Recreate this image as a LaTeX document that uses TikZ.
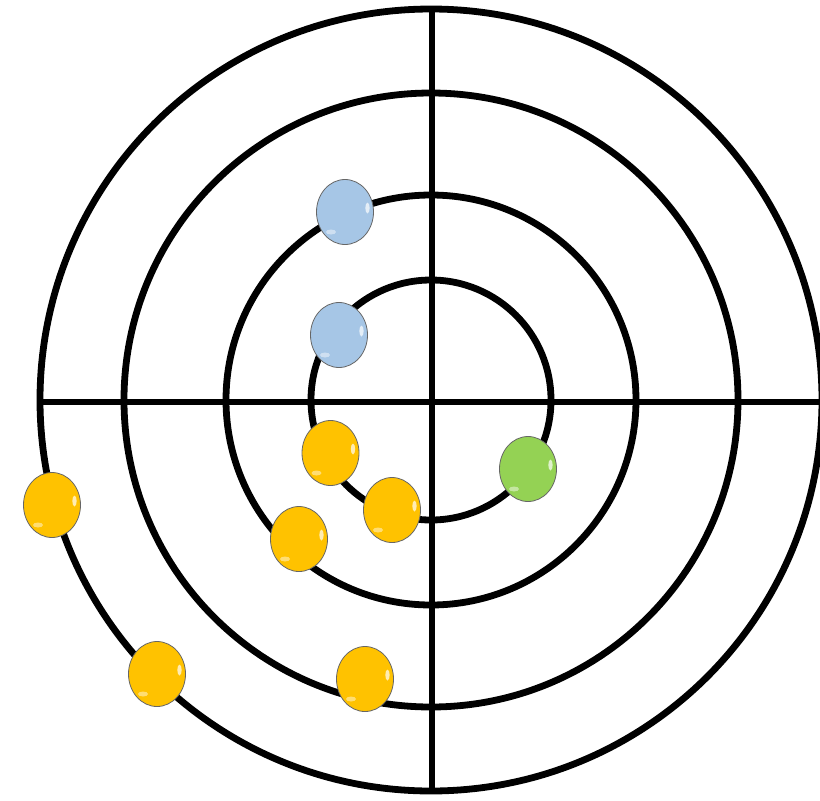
\documentclass[tikz,border=0pt]{standalone}
\usetikzlibrary{shapes.geometric}
\definecolor{ballyellow}{RGB}{255,194,0}
\definecolor{ballblue}{RGB}{166,198,230}
\definecolor{ballgreen}{RGB}{148,210,84}
\tikzset{
  ring/.style={draw=black, line width=6.8pt},
  axisline/.style={draw=black, line width=6.8pt},
  ball/.style={ellipse, minimum width=57pt, minimum height=65pt, inner sep=0pt,
    draw=black!60, line width=0.8pt, fill=#1,
    path picture={
      \fill[white, opacity=0.7] ([xshift=-6pt, yshift=4pt]path picture bounding box.east) ellipse (2.2pt and 5.5pt);
      \fill[white, opacity=0.45, rotate around={-35:([xshift=-14pt, yshift=-20pt]path picture bounding box.center)}] ([xshift=-14pt, yshift=-20pt]path picture bounding box.center) ellipse (5pt and 2.5pt);
    }},
}
\begin{document}
\begin{tikzpicture}[x=1pt, y=-1pt]
  \useasboundingbox (0,0) rectangle (820,801);
  \clip (0,0) rectangle (820,801);
  \fill[white] (0,0) rectangle (820,801);
  % rings
  \coordinate (c) at (431,400);
  \draw[ring] (c) circle (120);
  \draw[ring] (c) circle (205);
  \draw[ring] (c) circle (307);
  \draw[ring] (c) circle (391);
  % axes
  \coordinate (vt) at (432,9);
  \coordinate (vb) at (432,792);
  \coordinate (hl) at (41,402);
  \coordinate (hr) at (822,402);
  \draw[axisline] (vt) -- (vb);
  \draw[axisline] (hl) -- (hr);
  % balls
  \node[ball=ballblue] (b1) at (345,212) {};
  \node[ball=ballblue] (b2) at (339,335) {};
  \node[ball=ballyellow] (y1) at (330.5,453) {};
  \node[ball=ballyellow] (y2) at (392,510) {};
  \node[ball=ballyellow] (y3) at (299,539) {};
  \node[ball=ballyellow] (y4) at (52,505) {};
  \node[ball=ballyellow] (y5) at (157,674) {};
  \node[ball=ballyellow] (y6) at (365,679) {};
  \node[ball=ballgreen] (g1) at (528,469) {};
\end{tikzpicture}
\end{document}
